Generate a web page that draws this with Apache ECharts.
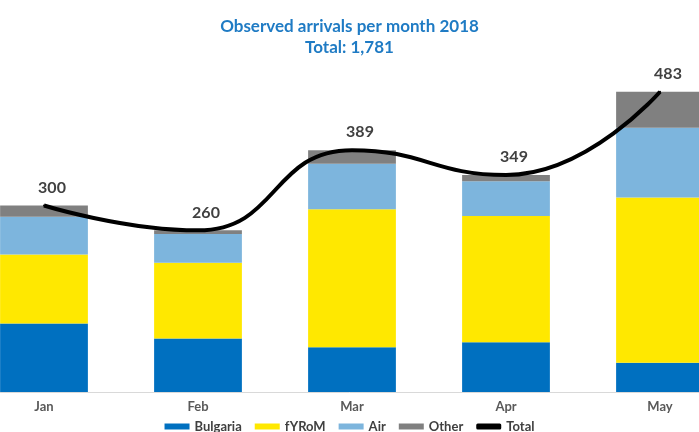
<!DOCTYPE html>
<html>
<head>
<meta charset="utf-8">
<script src="https://cdn.jsdelivr.net/npm/echarts@6/dist/echarts.min.js"></script>
<style>
    html, body { margin: 0; padding: 0; background: #fff; }
    #chart { width: 699px; height: 432px; }
</style>
</head>
<body>
<div id="chart"></div>
<script>
// values
var months = ['Jan', 'Feb', 'Mar', 'Apr', 'May'];
var bulgaria = [110, 86, 72, 80, 47];
var fyrom = [111, 122, 222, 203, 266];
var air = [61, 46, 73, 56, 112];
var other = [18, 6, 22, 10, 58];
var total = [300, 260, 389, 349, 483];

var font = 'Lato, "Open Sans", sans-serif';

function barSeries(name, data, color) {
    return {
        name: name,
        type: 'bar',
        stack: 'arrivals',
        barCategoryGap: '43%',
        itemStyle: { color: color },
        data: data
    };
}

var option = {
    animation: false,
    title: {
        left: 'center',
        top: 11,
        text: 'Observed arrivals per month 2018\nTotal: 1,781',
        textStyle: {
            color: '#1f7bc4',
            fontFamily: font,
            fontWeight: 'bold',
            fontSize: 17,
            lineHeight: 21
        }
    },
    legend: {
        bottom: -6,
        left: 'center',
        itemWidth: 25,
        itemHeight: 6,
        itemGap: 13,
        textStyle: { color: '#404040', fontFamily: font, fontSize: 13, fontWeight: 'bold' },
        data: [
            { name: 'Bulgaria', icon: 'rect' },
            { name: 'fYRoM', icon: 'rect' },
            { name: 'Air', icon: 'rect' },
            { name: 'Other', icon: 'rect' },
            { name: 'Total', icon: 'roundRect' }
        ]
    },
    grid: {
        left: -33,
        width: 770,
        top: 19,
        bottom: 40,
        outerBoundsMode: 'none',
        containLabel: false
    },
    xAxis: {
        type: 'category',
        data: months,
        axisTick: { show: false },
        axisLine: { lineStyle: { color: '#d9d9d9' } },
        axisLabel: { color: '#595959', fontFamily: font, fontSize: 13, fontWeight: 'bold', margin: 8 }
    },
    yAxis: {
        type: 'value',
        min: 0,
        max: 600,
        show: false,
        splitLine: { show: false }
    },
    series: [
        barSeries('Bulgaria', bulgaria, '#0070c0'),
        barSeries('fYRoM', fyrom, '#ffe800'),
        barSeries('Air', air, '#7db5dd'),
        barSeries('Other', other, '#808080'),
        {
            name: 'Total',
            type: 'line',
            smooth: 0.5,
            symbol: 'circle',
            symbolSize: 2,
            itemStyle: { color: '#000' },
            lineStyle: { color: '#000', width: 4 },
            label: {
                show: true,
                position: 'top',
                distance: 9,
                offset: [8, 0],
                color: '#404040',
                fontFamily: font,
                fontSize: 16,
                fontWeight: 'bold'
            },
            z: 5,
            data: total
        }
    ]
};

var myChart = echarts.init(document.getElementById('chart'));
myChart.setOption(option);
</script>
</body>
</html>
